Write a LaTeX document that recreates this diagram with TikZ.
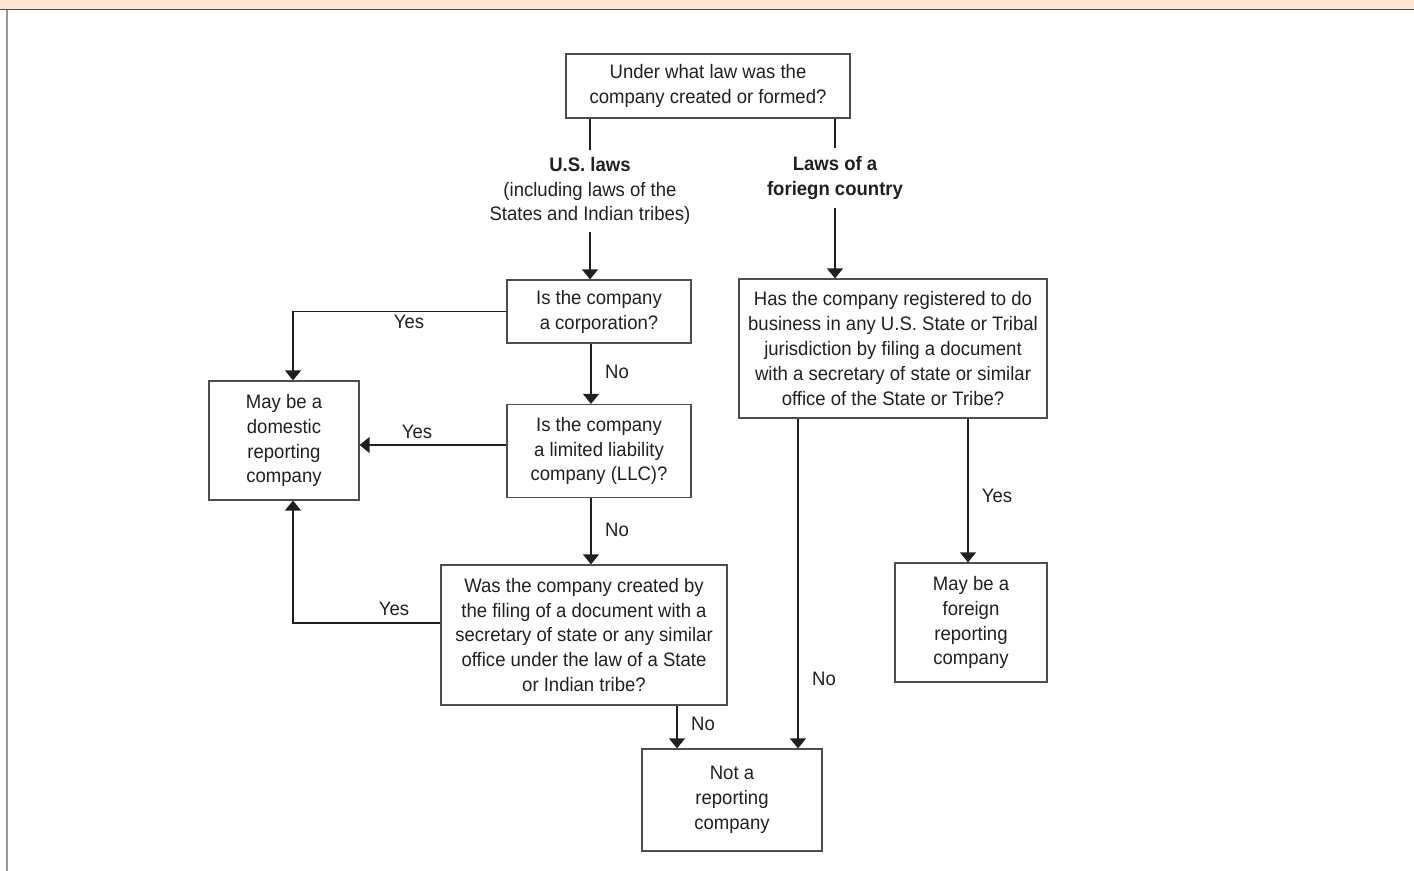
\documentclass[tikz,border=0pt]{standalone}
\usepackage{fontspec}
\setmainfont{Liberation Sans}[FakeStretch=0.95]
\usetikzlibrary{arrows.meta}
\definecolor{bandfill}{HTML}{FFE6D3}
\definecolor{boxline}{HTML}{4D4D4D}
\definecolor{inkgray}{HTML}{231F20}
\newcommand{\qfont}{\fontsize{11.1}{14.2}\selectfont}

\begin{document}
\begin{tikzpicture}[x=0.02cm, y=-0.02cm,
    box/.style={draw=boxline, line width=0.7pt, inner sep=0pt, align=center, text=inkgray, font=\qfont},
    lbl/.style={inner sep=0pt, align=center, text=inkgray, font=\qfont},
    arr/.style={-{Triangle[length=0.2cm, width=0.32cm]}, line width=0.7pt, draw=inkgray}]
    \useasboundingbox (0,0) rectangle (1414,871);

    % page frame
    \fill [bandfill] (0,0) rectangle (1414,9.5);
    \draw [boxline, line width=0.8pt] (0,9.7) -- (1414,9.7);
    \draw [gray!80, line width=0.9pt] (6.8,10) -- (6.8,871);

    % questions and outcomes
    \node (law) at (708,86) [box, minimum width=5.68cm, minimum height=1.28cm] {Under what law was the\\company created or formed?};
    \node (usl) at (590,191) [lbl, inner sep=0.14cm] {\textbf{U.S. laws}\\(including laws of the\\States and Indian tribes)};
    \node (fcl) at (835,178) [lbl, inner sep=0.16cm, font=\qfont\bfseries] {Laws of a\\foriegn country};
    \node (corp) at (599,311.5) [box, minimum width=3.68cm, minimum height=1.26cm] {Is the company\\a corporation?};
    \node (domestic) at (284,440.5) [box, minimum width=3.0cm, minimum height=2.38cm] {May be a\\domestic\\reporting\\company};
    \node (llc) at (599,451) [box, minimum width=3.68cm, minimum height=1.86cm] {Is the company\\a limited liability\\company (LLC)?};
    \node (filing) at (584,635) [box, minimum width=5.72cm, minimum height=2.8cm] {Was the company created by\\the filing of a document with a\\secretary of state or any similar\\office under the law of a State\\or Indian tribe?};
    \node (notrep) at (732,800) [box, minimum width=3.6cm, minimum height=2.04cm] {Not a\\reporting\\company};
    \node (foreignq) at (893,348.5) [box, minimum width=6.16cm, minimum height=2.78cm] {Has the company registered to do\\business in any U.S. State or Tribal\\jurisdiction by filing a document\\with a secretary of state or similar\\office of the State or Tribe?};
    \node (foreignrep) at (971,622.5) [box, minimum width=3.04cm, minimum height=2.38cm] {May be a\\foreign\\reporting\\company};

    % answers
    \node (yes1) at (409,322) [lbl] {Yes};
    \node (no1) at (617,372) [lbl] {No};
    \node (yes2) at (417,432) [lbl] {Yes};
    \node (no2) at (617,530) [lbl] {No};
    \node (yes3) at (394,609) [lbl] {Yes};
    \node (no3) at (703,724) [lbl] {No};
    \node (no4) at (824,679) [lbl] {No};
    \node (yes4) at (997,496) [lbl] {Yes};

    % connectors
    \coordinate (spine) at (591,0);
    \draw [line width=0.7pt, inkgray] (law.south -| usl.north) -- (usl.north);
    \draw [arr] (usl.south) -- (usl.south |- corp.north);
    \draw [line width=0.7pt, inkgray] (law.south -| fcl.north) -- (fcl.north);
    \draw [arr] (fcl.south) -- (fcl.south |- foreignq.north);
    \draw [arr] (corp.west) -| ([xshift=0.18cm]domestic.north);
    \draw [arr] (corp.south -| spine) -- (llc.north -| spine);
    \draw [arr] ([yshift=0.12cm]llc.west) -- ([yshift=0.12cm]domestic.east |- llc.west);
    \draw [arr] (llc.south -| spine) -- (filing.north -| spine);
    \draw [arr] ([yshift=0.24cm]filing.west) -| ([xshift=0.18cm]domestic.south);
    \draw [arr] ([xshift=-1.1cm]notrep.north |- filing.south) -- ([xshift=-1.1cm]notrep.north);
    \draw [arr] ([xshift=1.32cm]notrep.north |- foreignq.south) -- ([xshift=1.32cm]notrep.north);
    \draw [arr] ([xshift=-0.06cm]foreignrep.north |- foreignq.south) -- ([xshift=-0.06cm]foreignrep.north);
\end{tikzpicture}
\end{document}
